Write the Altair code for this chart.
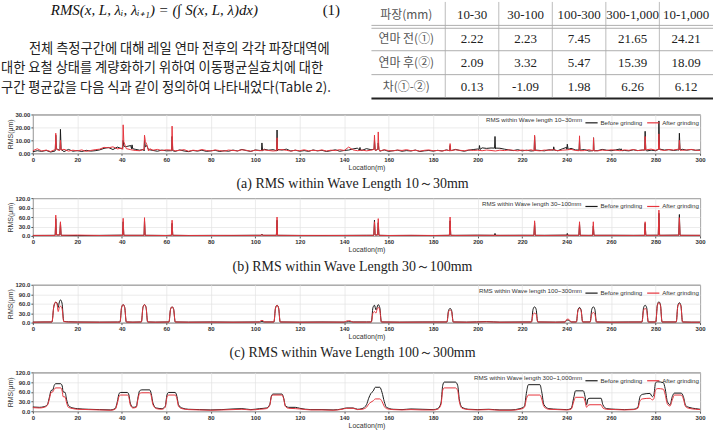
import altair as alt
import pandas as pd

# ---------------- text / table content ----------------
FORMULA = "RMS(x, L, λᵢ, λᵢ₊₁) = (∫ S(x, L, λ)dx)"
EQ_NO = "(1)"
PARA = [
    "전체 측정구간에 대해 레일 연마 전후의 각각 파장대역에",
    "대한 요철 상태를 계량화하기 위하여 이동평균실효치에 대한",
    "구간 평균값을 다음 식과 같이 정의하여 나타내었다(Table 2).",
]
TABLE_HEAD = ["파장(mm)", "10-30", "30-100", "100-300", "300-1,000", "10-1,000"]
ROW_LABELS = ["연마 전(①)", "연마 후(②)", "차(①-②)"]
ROW_BEFORE = [2.22, 2.23, 7.45, 21.65, 24.21]
ROW_AFTER = [2.09, 3.32, 5.47, 15.39, 18.09]
ROW_DIFF = [0.13, -1.09, 1.98, 6.26, 6.12]

SERIES = ["Before grinding", "After grinding"]
COLORS = ["#1a1a1a", "#e6353d"]

# ---------------- panel (a) 10-30mm ----------------
A_STEP = 2
A_BASE_BEFORE = [
    1.2, 2.0, 1.5, 2.2, 1.0, 1.8, 2.4, 1.3, 3.0, 1.6, 2.1,
    1.4, 2.3, 1.7, 2.0, 2.6, 3.8, 4.5, 2.9, 4.8, 3.5,
    5.2, 6.0, 3.1, 2.4, 1.8, 2.9, 2.2, 1.6, 2.5, 1.9,
    2.0, 1.5, 2.6, 1.8, 1.3, 2.2, 1.7, 2.4, 1.5, 1.9,
    2.3, 1.4, 2.0, 1.6, 2.5, 1.8, 3.0, 2.1, 1.5, 2.6,
    2.2, 3.1, 2.4, 2.8, 1.9, 2.5, 3.2, 1.8, 2.4, 1.6,
    2.1, 1.5, 2.6, 1.9, 2.3, 1.4, 2.0, 2.7, 1.6, 2.2,
    2.5, 3.4, 4.0, 2.3, 3.6, 2.8, 2.2, 1.7, 2.6, 1.5,
    2.0, 2.4, 1.6, 2.1, 1.8, 2.5, 1.4, 1.9, 2.2, 1.7,
    2.3, 1.8, 2.6, 2.0, 3.0, 2.2, 1.6, 2.4, 2.9, 3.3,
    4.2, 3.8, 4.1, 3.5, 3.9, 3.2, 2.6, 2.1, 2.8, 1.9,
    2.4, 1.8, 2.5, 2.2, 1.9, 2.7, 2.3, 2.0, 3.4, 4.6,
    3.8, 2.6, 2.2, 2.9, 1.8, 2.5, 2.1, 3.0, 2.4, 2.0,
    2.6, 3.3, 2.2, 1.9, 2.7, 2.1, 2.5, 1.8, 2.4, 2.0,
    3.2, 2.5, 2.8, 2.2, 2.6, 3.1, 2.4, 2.9, 2.3, 2.7,
]
A_BASE_AFTER = [
    2.0, 3.5, 1.8, 2.5, 1.4, 2.9, 2.2, 3.1, 1.7, 2.4, 1.9,
    2.6, 1.5, 2.2, 2.8, 3.2, 4.6, 4.2, 5.0, 3.4, 4.0,
    3.6, 2.8, 2.2, 2.0, 2.6, 1.8, 2.4, 3.0, 2.1, 2.7,
    2.5, 1.9, 2.3, 2.8, 1.6, 2.4, 2.0, 2.9, 2.2, 1.8,
    2.6, 2.1, 1.7, 2.5, 2.2, 1.9, 2.7, 2.3, 1.6, 2.4,
    2.0, 2.6, 2.2, 1.8, 2.5, 2.9, 2.3, 1.7, 2.4, 2.0,
    2.7, 1.9, 2.3, 2.0, 2.6, 1.8, 2.4, 2.1, 2.8, 2.2,
    4.8, 2.6, 2.0, 2.5, 1.9, 2.4, 2.2, 1.8, 2.7, 2.1,
    1.9, 2.5, 2.2, 2.8, 2.0, 2.4, 1.7, 2.3, 2.6, 2.0,
    2.2, 1.8, 2.5, 2.1, 2.7, 2.3, 2.0, 2.6, 2.2, 2.4,
    2.0, 2.5, 2.2, 1.8, 2.4, 2.1, 2.6, 2.3, 1.9, 2.5,
    2.1, 2.7, 2.2, 1.9, 2.5, 2.3, 2.8, 2.0, 2.4, 2.6,
    3.0, 2.2, 2.6, 2.1, 2.8, 2.3, 1.9, 2.5, 2.2, 2.7,
    2.4, 2.0, 2.6, 2.3, 2.9, 2.1, 2.5, 2.8, 3.2, 2.4,
    2.7, 2.2, 2.9, 2.5, 3.1, 2.3, 2.6, 3.0, 2.4, 2.2,
]
A_PEAKS_BEFORE = [
    (10.1, 3.0), (10.3, 14.0), (10.6, 3.5), (12.2, 3.0), (12.4, 18.5), (12.7, 3.0),
    (40.4, 4.0), (40.6, 10.0), (40.9, 5.5), (44.4, 3.5), (44.6, 6.5), (44.9, 3.5),
    (49.9, 3.0), (50.2, 10.0), (50.6, 5.0), (51.2, 6.0),
    (62.4, 2.0), (62.6, 13.0), (62.9, 2.0), (102.8, 2.0), (103.0, 8.0), (103.3, 2.0),
    (109.6, 2.0), (109.8, 18.0), (110.1, 3.0), (146.8, 2.5), (147.1, 4.5), (147.3, 2.5),
    (153.4, 3.0), (153.6, 10.0), (153.9, 3.0), (155.1, 3.0), (155.3, 8.0), (155.6, 3.0),
    (187.4, 2.0), (187.6, 6.0), (187.9, 2.0), (200.6, 3.0), (200.8, 6.0), (201.1, 3.0),
    (207.6, 4.0), (207.8, 13.0), (208.1, 4.0), (225.4, 2.0), (225.6, 13.0), (225.9, 2.0),
    (233.9, 2.5), (234.2, 5.0), (234.5, 2.5), (240.1, 3.0), (240.3, 7.0), (240.7, 3.0),
    (245.6, 2.5), (245.8, 10.0), (246.1, 2.5), (251.8, 2.0), (252.1, 12.0), (252.3, 2.0),
    (264.3, 2.0), (264.5, 3.5), (264.8, 2.0), (275.1, 2.5), (275.3, 17.0), (275.6, 2.5),
    (281.3, 3.0), (281.5, 25.0), (281.8, 3.0), (290.5, 2.5), (290.7, 15.5), (291.0, 2.5),
]
A_PEAKS_AFTER = [
    (10.1, 3.0), (10.3, 15.5), (10.6, 3.0), (12.2, 2.5), (12.4, 10.0), (12.7, 2.5),
    (40.4, 3.0), (40.6, 22.0), (40.9, 9.0), (41.5, 6.0),
    (49.9, 3.0), (50.2, 14.0), (50.6, 9.0), (51.2, 7.0), (52.6, 3.5),
    (62.4, 2.0), (62.6, 21.0), (62.9, 2.5), (109.6, 2.0), (109.8, 12.0), (110.1, 2.5),
    (153.4, 3.0), (153.6, 14.0), (153.9, 3.0), (155.1, 3.0), (155.3, 16.5), (155.6, 3.0),
    (187.4, 2.0), (187.6, 7.5), (187.9, 2.0), (225.4, 2.0), (225.6, 14.0), (225.9, 2.0),
    (245.6, 2.0), (245.8, 13.5), (246.1, 2.0), (251.8, 2.0), (252.1, 12.0), (252.3, 2.0),
    (275.1, 2.5), (275.3, 13.0), (275.6, 2.5), (281.3, 3.0), (281.5, 15.0), (281.8, 3.0),
    (290.5, 2.5), (290.7, 10.0), (291.0, 2.5),
]

# ---------------- panel (b) 30-100mm ----------------
B_STEP = 10
B_BASE_BEFORE = [1.5, 2.0, 1.2, 1.8, 2.5, 2.0, 1.6, 1.4, 1.8, 1.5, 2.2, 1.9, 1.6, 1.4, 1.8, 2.0,
                 1.5, 1.7, 1.3, 1.9, 2.4, 1.8, 2.2, 2.0, 2.6, 1.8, 2.1, 1.9, 2.3, 2.5, 1.8]
B_BASE_AFTER = [1.8, 1.6, 2.8, 1.5, 2.0, 1.8, 1.4, 1.6, 1.5, 1.9, 1.7, 2.0, 1.6, 1.8, 1.5, 1.9,
                1.4, 2.0, 1.6, 1.7, 2.0, 1.9, 1.8, 1.6, 2.2, 1.8, 2.0, 1.7, 2.1, 2.4, 2.0]
B_PEAKS_BEFORE = [
    (10.05, 2), (10.3, 55), (10.6, 3), (12.1, 3), (12.4, 42), (12.7, 2),
    (40.3, 2), (40.6, 45), (40.9, 2), (49.9, 2), (50.2, 50), (50.5, 2),
    (62.3, 2), (62.6, 40), (62.9, 2), (102.7, 2), (103.0, 6), (103.3, 2),
    (109.5, 2), (109.8, 50), (110.1, 2), (153.3, 2), (153.6, 50), (153.9, 3),
    (155.0, 3), (155.3, 42), (155.6, 2), (187.3, 2), (187.6, 48), (187.9, 2),
    (207.5, 2), (207.8, 8), (208.1, 2), (225.3, 2), (225.6, 42), (225.9, 2),
    (240.05, 2), (240.3, 8), (240.6, 2), (245.5, 2), (245.8, 38), (246.1, 2),
    (251.7, 2), (252.0, 32), (252.3, 2), (275.0, 2), (275.3, 40), (275.6, 2),
    (281.2, 2), (281.5, 72), (281.8, 2), (290.4, 2), (290.7, 68), (291.0, 2),
]
B_PEAKS_AFTER = [
    (10.05, 2), (10.3, 66), (10.6, 3), (12.1, 3), (12.4, 45), (12.7, 2),
    (40.3, 2), (40.6, 56), (40.9, 2), (49.9, 2), (50.2, 58), (50.5, 2),
    (62.3, 2), (62.6, 50), (62.9, 2), (102.7, 2), (103.0, 5), (103.3, 2),
    (109.5, 2), (109.8, 60), (110.1, 2), (153.3, 2), (153.6, 45), (153.9, 3),
    (155.0, 3), (155.3, 55), (155.6, 2), (187.3, 2), (187.6, 60), (187.9, 2),
    (225.3, 2), (225.6, 48), (225.9, 2), (245.5, 2), (245.8, 45), (246.1, 2),
    (251.7, 2), (252.0, 45), (252.3, 2), (275.0, 2), (275.3, 45), (275.6, 2),
    (281.2, 2), (281.5, 82), (281.8, 2), (290.4, 2), (290.7, 58), (291.0, 2),
]

# ---------------- panel (c) 100-300mm ----------------
C_BEFORE = [
    (0, 1.5), (5, 2.0), (8.6, 2.0), (9.4, 50), (10.2, 64), (10.8, 63), (11.4, 48), (11.8, 62),
    (12.4, 72), (13.1, 62), (13.9, 4), (16, 2.5), (20, 2.0), (30, 1.5), (38, 1.8),
    (39.2, 2), (39.9, 48), (40.6, 57), (41.3, 48), (42.0, 2),
    (45, 1.5), (48.8, 2), (49.5, 48), (50.2, 57), (50.9, 48), (51.6, 2),
    (55, 1.5), (61.2, 2), (61.9, 42), (62.6, 50), (63.3, 42), (64.0, 2),
    (70, 1.5), (80, 2.0), (90, 1.5), (100, 2.0), (102, 2), (103, 3.5), (104, 2),
    (108.4, 2), (109.1, 46), (109.8, 55), (110.5, 46), (111.2, 2),
    (120, 1.5), (130, 2.0), (140, 1.5), (142, 3), (144, 2), (150, 2),
    (152.2, 2), (152.9, 47), (153.6, 55), (154.3, 40), (154.6, 45), (155.3, 57), (156.0, 47), (156.7, 2),
    (165, 1.5), (175, 2.0), (186.2, 2), (186.9, 38), (187.6, 45), (188.3, 38), (189.0, 2),
    (195, 1.5), (204, 3), (210, 1.5), (220, 2), (224.2, 2), (224.9, 42), (225.6, 50), (226.3, 42), (227.0, 2),
    (235, 1.5), (239.3, 2), (240.0, 7), (240.5, 8), (241.2, 6), (242, 2),
    (244.4, 2), (245.1, 40), (245.8, 48), (246.5, 40), (247.2, 2),
    (250.6, 2), (251.3, 42), (252.0, 50), (252.7, 42), (253.4, 2),
    (260, 1.5), (268, 2), (273.9, 2), (274.6, 47), (275.3, 55), (276.0, 47), (276.7, 2),
    (280.1, 2), (280.8, 56), (281.5, 66), (282.2, 56), (282.9, 2),
    (289.3, 2), (290.0, 54), (290.7, 63), (291.4, 54), (292.1, 2),
    (296, 1.5), (300, 1.5),
]
C_AFTER = [
    (0, 1.2), (5, 1.8), (8.6, 2.0), (9.4, 50), (10.2, 65), (10.8, 62), (11.4, 35), (11.8, 45),
    (12.4, 52), (13.1, 45), (13.9, 3), (16, 2.0), (20, 1.5), (30, 1.2), (38, 1.5),
    (39.2, 2), (39.9, 48), (40.6, 57), (41.3, 48), (42.0, 2),
    (45, 1.2), (48.8, 2), (49.5, 48), (50.2, 57), (50.9, 48), (51.6, 2),
    (55, 1.2), (61.2, 2), (61.9, 42), (62.6, 50), (63.3, 42), (64.0, 2),
    (70, 1.2), (80, 1.5), (90, 1.2), (100, 1.5), (101.8, 2), (102.5, 6), (103.0, 7), (103.5, 6), (104.2, 2),
    (108.4, 2), (109.1, 46), (109.8, 55), (110.5, 46), (111.2, 2),
    (120, 1.2), (130, 1.5), (139.8, 1.5), (141.3, 5.5), (142, 6), (142.7, 5.5), (144, 1.5), (150, 1.5),
    (152.2, 2), (152.9, 30), (153.6, 35), (154.3, 30), (154.6, 38), (155.3, 48), (156.0, 40), (156.7, 2),
    (165, 1.2), (175, 1.5), (186.2, 2), (186.9, 34), (187.6, 40), (188.3, 34), (189.0, 2),
    (195, 1.2), (204, 2.5), (210, 1.2), (220, 1.5), (224.2, 2), (224.9, 26), (225.6, 30), (226.3, 26), (227.0, 2),
    (235, 1.2), (239.3, 2), (240.0, 10), (240.5, 11), (241.2, 9), (242, 2),
    (244.4, 2), (245.1, 38), (245.8, 45), (246.5, 38), (247.2, 2),
    (250.6, 2), (251.3, 27), (252.0, 32), (252.7, 27), (253.4, 2),
    (260, 1.2), (268, 1.5), (273.9, 2), (274.6, 38), (275.3, 45), (276.0, 38), (276.7, 2),
    (280.1, 2), (280.8, 54), (281.5, 63), (282.2, 54), (282.9, 2),
    (289.3, 2), (290.0, 52), (290.7, 60), (291.4, 52), (292.1, 2),
    (296, 1.2), (300, 1.2),
]

# ---------------- panel (d) 300-1,000mm ----------------
D_BEFORE = [
    (0, 13), (3, 12), (5, 14), (6.5, 20), (7.5, 45), (8.2, 64), (9, 66), (9.6, 80), (10.3, 85),
    (12.5, 85), (13.2, 78), (13.6, 60), (14.5, 58), (15.2, 35), (16, 18), (18, 10), (20, 8),
    (25, 6), (30, 5), (35, 4), (37, 8), (38, 30), (38.8, 55), (39.5, 58), (42.5, 58), (43.2, 50),
    (43.8, 25), (45, 12), (46.5, 14), (47.2, 40), (48, 63), (49, 66), (52.5, 66), (53.2, 55),
    (54, 25), (55.5, 10), (58, 8), (59.5, 15), (60.3, 50), (61, 58), (64, 58), (64.8, 45),
    (65.5, 20), (67, 10), (70, 6), (75, 5), (80, 4), (85, 5), (90, 7), (94, 8), (98, 5),
    (102, 8), (105, 10), (106.5, 20), (107.3, 48), (108, 53), (112, 53), (112.8, 40),
    (113.5, 18), (115, 12), (118, 12), (120, 9), (125, 5), (130, 5), (135, 4), (139, 7),
    (141, 10), (144, 10), (146, 6), (148, 8), (150, 20), (151, 40), (152, 55), (153, 62),
    (154, 74), (156, 74), (157, 58), (158, 30), (159, 12), (162, 6), (166, 5), (170, 7),
    (175, 6), (180, 5), (182, 8), (183.5, 25), (184.3, 80), (185, 90), (190, 90), (191, 80),
    (191.8, 35), (193, 12), (196, 6), (200, 5), (205, 6), (210, 4), (215, 4), (219, 8),
    (221, 15), (222, 60), (222.8, 82), (228, 82), (228.8, 60), (229.8, 20), (232, 8),
    (236, 6), (240, 5), (242, 8), (243.3, 45), (244, 63), (247.5, 63), (248.3, 45),
    (249, 20), (249.6, 38), (250.5, 40), (255.5, 40), (256.3, 20), (258, 8), (262, 6),
    (266, 5), (270, 6), (272, 12), (273, 45), (274, 52), (277.5, 55), (278.5, 45),
    (279.2, 50), (280, 88), (281, 91), (283.5, 88), (284.3, 70), (285.3, 30), (286.5, 20),
    (287.5, 45), (288.5, 56), (291.5, 56), (292.5, 45), (293.5, 18), (295, 12), (298, 8), (300, 6),
]
D_AFTER = [
    (0, 11), (3, 10), (5, 12), (6.5, 18), (7.5, 40), (8.2, 58), (9, 60), (9.6, 68), (10.3, 72),
    (12.5, 72), (13.2, 62), (13.6, 45), (14.5, 44), (15.2, 25), (16, 12), (18, 8), (20, 6),
    (25, 5), (30, 4), (35, 3), (37, 6), (38, 25), (38.8, 47), (39.5, 50), (42.5, 50), (43.2, 42),
    (43.8, 20), (45, 10), (46.5, 12), (47.2, 35), (48, 55), (49, 57), (52.5, 57), (53.2, 48),
    (54, 20), (55.5, 8), (58, 6), (59.5, 12), (60.3, 43), (61, 50), (64, 50), (64.8, 38),
    (65.5, 15), (67, 8), (70, 5), (75, 4), (80, 3), (85, 4), (90, 5), (94, 6), (98, 4),
    (102, 6), (105, 8), (106.5, 18), (107.3, 46), (108, 50), (112, 50), (112.8, 38),
    (113.5, 15), (115, 9), (118, 8), (120, 7), (125, 4), (130, 4), (135, 3), (139, 6),
    (141, 9), (144, 9), (146, 5), (148, 6), (150, 12), (151, 22), (152, 28), (153, 32),
    (154, 38), (156, 38), (157, 30), (158, 15), (159, 8), (162, 5), (166, 4), (170, 5),
    (175, 4), (180, 4), (182, 6), (183.5, 20), (184.3, 65), (185, 72), (190, 72), (191, 64),
    (191.8, 28), (193, 9), (196, 5), (200, 4), (205, 5), (210, 3), (215, 3), (219, 6),
    (221, 12), (222, 40), (222.8, 50), (228, 50), (228.8, 38), (229.8, 14), (232, 6),
    (236, 5), (240, 4), (242, 6), (243.3, 32), (244, 43), (247.5, 43), (248.3, 30),
    (249, 12), (249.6, 18), (250.5, 20), (255.5, 20), (256.3, 10), (258, 6), (262, 5),
    (266, 4), (270, 5), (272, 9), (273, 32), (274, 38), (277.5, 40), (278.5, 35),
    (279.2, 38), (280, 66), (281, 70), (283.5, 68), (284.3, 52), (285.3, 22), (286.5, 16),
    (287.5, 35), (288.5, 50), (291.5, 50), (292.5, 38), (293.5, 14), (295, 9), (298, 6), (300, 5),
]

LEGEND_TITLES = [
    "RMS within Wave length 10~30mm",
    "RMS within Wave length 30~100mm",
    "RMS within Wave length 100~300mm",
    "RMS within Wave length 300~1,000mm",
]
CAPTIONS = [
    "(a)  RMS  within  Wave  Length  10～30mm",
    "(b)  RMS  within  Wave  Length  30～100mm",
    "(c)  RMS  within  Wave  Length  100～300mm",
    "(d)  RMS  within  Wave  Length  300～1,000mm",
]
X_TICKS = list(range(0, 301, 20))

PW = 670
SANS = "Liberation Sans"
SERIF = "Liberation Serif"
KR = "Noto Sans CJK KR"


def merge(step, base, peaks):
    pts = [(i * step, v) for i, v in enumerate(base)] + list(peaks)
    return sorted(pts, key=lambda p: p[0])


def panel(before, after, ymax, yvals, yfmt, legend_title, caption, h, gap, bottom, interp):
    rows = [{"x": x, "y": y, "s": SERIES[0]} for x, y in before] + \
           [{"x": x, "y": y, "s": SERIES[1]} for x, y in after]
    df = pd.DataFrame(rows)
    lines = alt.Chart(df).mark_line(strokeWidth=1, interpolate=interp).encode(
        x=alt.X("x:Q", scale=alt.Scale(domain=[0, 300], nice=False, zero=False),
                axis=alt.Axis(values=X_TICKS, format="d", title="Location(m)",
                              labelFont=SANS, labelFontSize=6, labelFontWeight="bold",
                              labelColor="#333", labelPadding=1, labelFlush=False,
                              tickSize=2, tickColor="#555", domain=False,
                              grid=True, gridColor="#e2e2e2", gridWidth=0.7,
                              titleFont=SANS, titleFontSize=7, titleFontWeight="normal",
                              titleColor="#333", titlePadding=1)),
        y=alt.Y("y:Q", scale=alt.Scale(domain=[0, ymax], nice=False),
                axis=alt.Axis(values=yvals, format=yfmt, title="RMS(μm)",
                              labelFont=SANS, labelFontSize=6, labelFontWeight="bold",
                              labelColor="#333", labelPadding=1, labelFlush=False,
                              tickSize=2, tickColor="#555", domain=False,
                              grid=True, gridColor="#e2e2e2", gridWidth=0.7,
                              minExtent=17, maxExtent=17,
                              titleFont=SANS, titleFontSize=7, titleFontWeight="normal",
                              titleColor="#333", titlePadding=2)),
        color=alt.Color("s:N", scale=alt.Scale(domain=SERIES, range=COLORS),
                        legend=alt.Legend(title=legend_title, orient="top-right",
                                          direction="horizontal", titleOrient="left",
                                          symbolType="stroke", symbolSize=150,
                                          symbolStrokeWidth=1.2, labelFont=SANS,
                                          labelFontSize=6.2, labelColor="#333",
                                          titleFont=SANS, titleFontSize=6.2,
                                          titleFontWeight="normal", titleColor="#333",
                                          offset=1, padding=0, columnPadding=2,
                                          titlePadding=2, labelOffset=2)),
    )
    cap = alt.Chart(pd.DataFrame({"t": [caption]})).mark_text(
        font=SERIF, fontSize=14, color="#222", align="center", baseline="middle"
    ).encode(text="t:N", x=alt.value(321), y=alt.value(h + 31))
    spacer = alt.Chart(pd.DataFrame({"a": [0]})).mark_rule(opacity=0, strokeWidth=0).encode(
        x=alt.value(0), y=alt.value(-gap), y2=alt.value(h + bottom))
    return alt.layer(spacer, lines, cap).properties(width=PW, height=h)


# ---------------- top block (text + table) ----------------
formula = alt.Chart(pd.DataFrame({"t": [FORMULA]})).mark_text(
    font=SERIF, fontStyle="italic", fontSize=15, color="#111", align="left", baseline="alphabetic"
).encode(text="t:N", x=alt.value(18), y=alt.value(13))
eqno = alt.Chart(pd.DataFrame({"t": [EQ_NO]})).mark_text(
    font=SERIF, fontSize=15, color="#111", align="left", baseline="alphabetic"
).encode(text="t:N", x=alt.value(291), y=alt.value(13))

para_df = pd.DataFrame({"i": list(range(len(PARA))), "t": PARA})
para_y = alt.Y("i:Q", scale=alt.Scale(domain=[0, 2], range=[47, 86]), axis=None)
para1 = alt.Chart(para_df).transform_filter("datum.i == 0").mark_text(
    font=KR, fontSize=13.3, color="#222", align="left", baseline="middle"
).encode(text="t:N", x=alt.value(-4), y=para_y)
para2 = alt.Chart(para_df).transform_filter("datum.i > 0").mark_text(
    font=KR, fontSize=13.3, color="#222", align="left", baseline="middle"
).encode(text="t:N", x=alt.value(-32), y=para_y)

cells = []
for c, name in enumerate(TABLE_HEAD[1:], start=1):
    cells.append({"r": 0, "c": c, "t": name})
for r, vals in enumerate([ROW_BEFORE, ROW_AFTER, ROW_DIFF], start=1):
    for c, v in enumerate(vals, start=1):
        cells.append({"r": r, "c": c, "t": f"{v:.2f}"})
cell_df = pd.DataFrame(cells)
tx = alt.Scale(domain=[1, 5], range=[441, 656])
ty = alt.Scale(domain=[0, 3], range=[13, 85])
table_text = alt.Chart(cell_df).mark_text(
    font=SERIF, fontSize=13, color="#222", align="center", baseline="middle"
).encode(text="t:N", x=alt.X("c:Q", scale=tx, axis=None), y=alt.Y("r:Q", scale=ty, axis=None))
lab_df = pd.DataFrame({"r": [0, 1, 2, 3], "t": [TABLE_HEAD[0]] + ROW_LABELS})
table_labels = alt.Chart(lab_df).mark_text(
    font=KR, fontSize=12, color="#555", align="center", baseline="middle"
).encode(text="t:N", x=alt.value(375), y=alt.Y("r:Q", scale=ty, axis=None))
hrule_df = pd.DataFrame({"y": [0.44, 0.56, 1.5, 2.5]})
hrules = alt.Chart(hrule_df).mark_rule(color="#999", strokeWidth=0.8).encode(
    y=alt.Y("y:Q", scale=ty, axis=None), x=alt.value(340), x2=alt.value(683))
brule = alt.Chart(pd.DataFrame({"y": [3.5]})).mark_rule(color="#222", strokeWidth=2).encode(
    y=alt.Y("y:Q", scale=ty, axis=None), x=alt.value(340), x2=alt.value(683))
vrule_df = pd.DataFrame({"x": [0.5, 1.5, 2.5, 3.5, 4.5]})
vrules = alt.Chart(vrule_df).mark_rule(color="#aaa", strokeWidth=0.8).encode(
    x=alt.X("x:Q", scale=tx, axis=None), y=alt.value(0), y2=alt.value(96))

top = alt.layer(formula, eqno, para1, para2, hrules, brule, vrules, table_text, table_labels).resolve_scale(
    x="independent", y="independent").properties(
    width=PW, height=100, view=alt.ViewBackground(stroke="transparent"))

pa = panel(merge(A_STEP, A_BASE_BEFORE, A_PEAKS_BEFORE), merge(A_STEP, A_BASE_AFTER, A_PEAKS_AFTER),
           30, [0, 10, 20, 30], ".2f", LEGEND_TITLES[0], CAPTIONS[0], 39, 11, 40, "linear")
pb = panel(merge(B_STEP, B_BASE_BEFORE, B_PEAKS_BEFORE), merge(B_STEP, B_BASE_AFTER, B_PEAKS_AFTER),
           120, [0, 30, 60, 90, 120], ".1f", LEGEND_TITLES[1], CAPTIONS[1], 38, 3, 40, "linear")
pc = panel(C_BEFORE, C_AFTER, 120, [0, 30, 60, 90, 120], ".1f", LEGEND_TITLES[2], CAPTIONS[2],
           38, 7, 40, "monotone")
pd_ = panel(D_BEFORE, D_AFTER, 120, [0, 30, 60, 90, 120], ".1f", LEGEND_TITLES[3], CAPTIONS[3],
            39, 8, 31, "monotone")

chart = alt.vconcat(top, pa, pb, pc, pd_, spacing=0).resolve_scale(
    color="independent").resolve_legend(color="independent").properties(
    padding=0, background="white"
).configure_view(stroke="#444", strokeWidth=1)

chart.save("out.html", embed_options={"renderer": "svg", "actions": False})
